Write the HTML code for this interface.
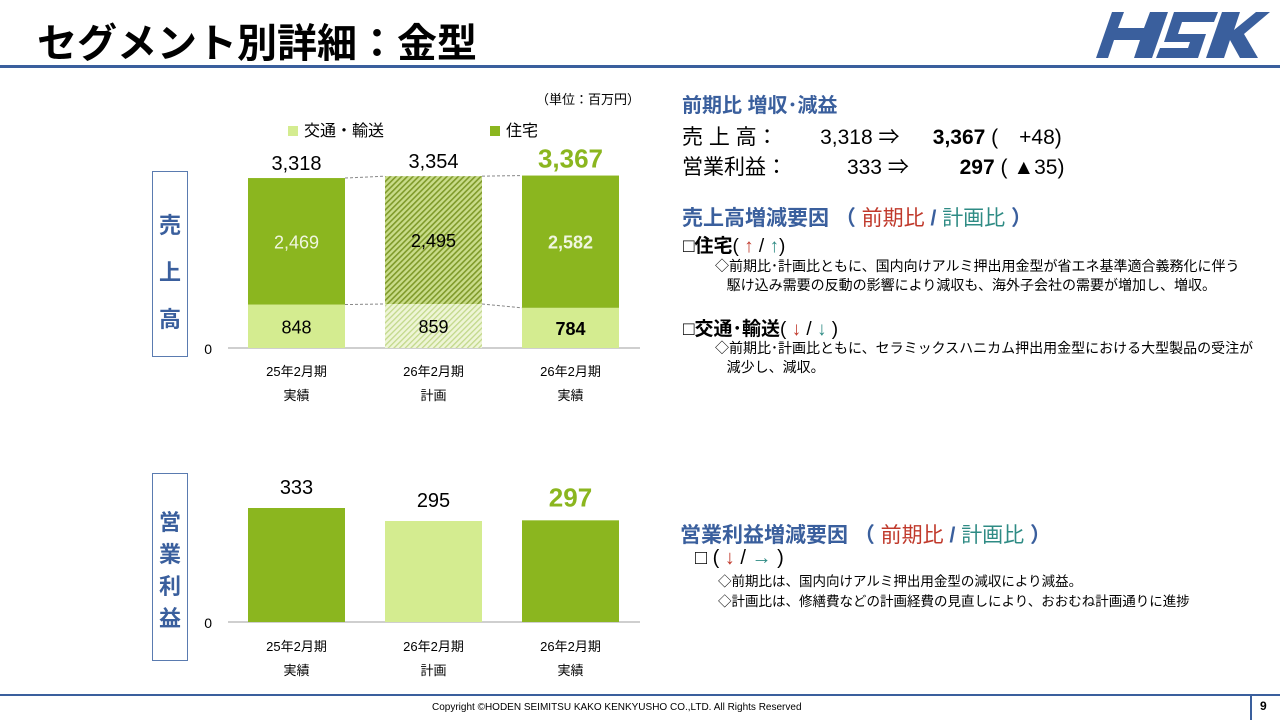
<!DOCTYPE html>
<html><head><meta charset="utf-8">
<style>
body{margin:0;width:1280px;height:720px;overflow:hidden;background:#fff;font-family:"Liberation Sans","Noto Sans CJK JP",sans-serif;position:relative}
.a{position:absolute;white-space:nowrap}
.blue{color:#3a5f9d}.red{color:#c0392b}.teal{color:#2e8b84}
.side{position:absolute;border:1.5px solid #5a7bb0;color:#3a5f9d;font-weight:bold;font-size:22px;text-align:center;width:36px}
</style></head><body>
<div class="a" style="left:37px;top:11px;font-size:40px;font-weight:bold;color:#000;letter-spacing:0px">セグメント別詳細：金型</div>
<svg class="a" style="left:1090px;top:8px" width="180" height="52" viewBox="0 0 180 52">
<polygon points="10,4 28,4 22,20 48,20 54,4 72,4 56,50 38,50 44,32 18,32 12,50 0,50 16,4" fill="#3a5f9d" transform="translate(6,0)"/>
<path d="M84 4 H128 L124 14 H92 L88 26 H116 L108 50 H66 L70 40 H98 L100 34 H74 Z" fill="#3a5f9d"/>
<polygon points="132,4 150,4 144,22 166,4 180,4 154,26 168,50 150,50 140,32 134,50 116,50" fill="#3a5f9d"/>
</svg>
<div class="a" style="left:0;top:65px;width:1280px;height:3px;background:#3a5f9d"></div>

<div class="a" style="left:536px;top:89px;font-size:13px">（単位：百万円）</div>
<div class="a" style="left:288px;top:117px;font-size:16px"><span style="display:inline-block;width:10px;height:10px;background:#d4ec90;margin-right:6px"></span>交通・輸送</div>
<div class="a" style="left:490px;top:117px;font-size:16px"><span style="display:inline-block;width:10px;height:10px;background:#8bb61f;margin-right:6px"></span>住宅</div>

<div class="side" style="left:152px;top:171px;height:186px;line-height:47px;padding-top:30px;box-sizing:border-box">売<br>上<br>高</div>
<div class="side" style="left:152px;top:473px;height:188px;line-height:32px;padding-top:33px;box-sizing:border-box">営<br>業<br>利<br>益</div>

<svg class="a" id="chart" style="left:0;top:0" width="660" height="700">
<defs><pattern id="hatch" width="4" height="4" patternUnits="userSpaceOnUse" patternTransform="rotate(45)"><rect width="4" height="4" fill="#c9dc8a"/><rect width="1.6" height="4" fill="#7f9a2a"/></pattern>
<pattern id="hatch2" width="4" height="4" patternUnits="userSpaceOnUse" patternTransform="rotate(45)"><rect width="4" height="4" fill="#eef5d6"/><rect width="1.3" height="4" fill="#c2d88a"/></pattern></defs>
</svg>

<div class="a" style="left:682px;top:89px;font-size:20px;font-weight:bold;color:#3a5f9d">前期比 増収･減益</div>
<div class="a" style="left:682px;top:121px;font-size:21px">売 上 高：<span style="display:inline-block;width:95px;text-align:right">3,318</span> ⇒ <b style="display:inline-block;width:80px;text-align:right">3,367</b> (　+48)</div>
<div class="a" style="left:682px;top:151px;font-size:21px">営業利益：<span style="display:inline-block;width:95px;text-align:right">333</span> ⇒ <b style="display:inline-block;width:80px;text-align:right">297</b> ( ▲35)</div>

<div class="a" style="left:682px;top:202px;font-size:21px;font-weight:bold"><span class="blue">売上高増減要因 （ </span><span class="red" style="font-weight:normal">前期比</span><span class="blue"> / </span><span class="teal" style="font-weight:normal">計画比</span><span class="blue"> ）</span></div>
<div class="a" style="left:683px;top:231px;font-size:19px"><b>□住宅</b>( <span class="red">↑</span> / <span class="teal">↑</span>)</div>
<div class="a" style="left:715px;top:257px;font-size:14px;line-height:19px">◇前期比･計画比ともに、国内向けアルミ押出用金型が省エネ基準適合義務化に伴う<br>&nbsp;&nbsp;&nbsp;駆け込み需要の反動の影響により減収も、海外子会社の需要が増加し、増収。</div>
<div class="a" style="left:683px;top:314px;font-size:19px"><b>□交通･輸送</b>( <span class="red">↓</span> / <span class="teal">↓</span> )</div>
<div class="a" style="left:715px;top:339px;font-size:14px;line-height:19px">◇前期比･計画比ともに、セラミックスハニカム押出用金型における大型製品の受注が<br>&nbsp;&nbsp;&nbsp;減少し、減収。</div>

<div class="a" style="left:680px;top:519px;font-size:21px;font-weight:bold"><span class="blue">営業利益増減要因 （ </span><span class="red" style="font-weight:normal">前期比</span><span class="blue"> / </span><span class="teal" style="font-weight:normal">計画比</span><span class="blue"> ）</span></div>
<div class="a" style="left:695px;top:547px;font-size:20px">□ ( <span class="red">↓</span> / <span class="teal">→</span> )</div>
<div class="a" style="left:718px;top:572px;font-size:13.5px;line-height:20px">◇前期比は、国内向けアルミ押出用金型の減収により減益。<br>◇計画比は、修繕費などの計画経費の見直しにより、おおむね計画通りに進捗</div>

<div class="a" style="left:0;top:694px;width:1280px;height:2px;background:#3a5f9d"></div>
<div class="a" style="left:432px;top:702px;font-size:10px">Copyright ©HODEN SEIMITSU KAKO KENKYUSHO CO.,LTD. All Rights Reserved</div>
<div class="a" style="left:1250px;top:696px;width:2px;height:24px;background:#3a5f9d"></div>
<div class="a" style="left:1260px;top:699px;font-size:12px;font-weight:bold">9</div>

<script>
const categories=["25年2月期","26年2月期","26年2月期"];
const subLabels=["実績","計画","実績"];
const housing=[2469,2495,2582];
const transport=[848,859,784];
const totals=[3318,3354,3367];
const profit=[333,295,297];

const svg=document.getElementById('chart');
const NS='http://www.w3.org/2000/svg';
function mk(t,a,txt){const e=document.createElementNS(NS,t);for(const k in a)e.setAttribute(k,a[k]);if(txt!==undefined)e.textContent=txt;svg.appendChild(e);return e;}
const barW=97;
function xPos(i){return 248+i*137;}
const salesBase=348, salesScale=170/3318;
function ySales(v){return salesBase-v*salesScale;}
const profBase=622, profScale=114/333;
function yProf(v){return profBase-v*profScale;}

let e=mk('line',{x1:228,x2:640,y1:salesBase,y2:salesBase,stroke:'#bfbfbf','stroke-width':1.5});

e=mk('text',{x:212,y:salesBase+6,'font-size':14,'text-anchor':'end'},'0');

for(let i=0;i<2;i++){
  const a=xPos(i)+barW,b=xPos(i+1);
  [[transport[i],transport[i+1]],[transport[i]+housing[i],transport[i+1]+housing[i+1]]].forEach(p=>{
    e=mk('line',{x1:a,x2:b,y1:ySales(p[0]),y2:ySales(p[1]),stroke:'#888','stroke-width':1,'stroke-dasharray':'3,2'});
    
  });
}
for(let i=0;i<3;i++){
  const x=xPos(i),plan=i===1,last=i===2;
  const yt=ySales(transport[i]),yh=ySales(transport[i]+housing[i]);
  e=mk('rect',{x:x,y:yt,width:barW,height:salesBase-yt,fill:plan?'url(#hatch2)':'#d4ec90'});
  
  e=mk('rect',{x:x,y:yh,width:barW,height:yt-yh,fill:plan?'url(#hatch)':'#8bb61f'});
  
  const cx=x+barW/2;
  e=mk('text',{x:cx,y:(yt+salesBase)/2+7,'font-size':18,'text-anchor':'middle','font-weight':last?'bold':'normal',fill:'#000'},transport[i].toLocaleString('en-US'));
  
  e=mk('text',{x:cx,y:(yh+yt)/2+7,'font-size':18,'text-anchor':'middle','font-weight':last?'bold':'normal',fill:plan?'#000':'#f0f6e0'},housing[i].toLocaleString('en-US'));
  
  e=mk('text',{x:cx,y:yh-8,'font-size':last?26:20,'text-anchor':'middle','font-weight':last?'bold':'normal',fill:last?'#8bb61f':'#000'},totals[i].toLocaleString('en-US'));
  
  e=mk('text',{x:cx,y:376,'font-size':13,'text-anchor':'middle'},categories[i]);
  
  e=mk('text',{x:cx,y:400,'font-size':13,'text-anchor':'middle'},subLabels[i]);
  
}
e=mk('line',{x1:228,x2:640,y1:profBase,y2:profBase,stroke:'#bfbfbf','stroke-width':1.5});

e=mk('text',{x:212,y:profBase+6,'font-size':14,'text-anchor':'end'},'0');

for(let i=0;i<3;i++){
  const x=xPos(i),last=i===2,y=yProf(profit[i]),cx=x+barW/2;
  e=mk('rect',{x:x,y:y,width:barW,height:profBase-y,fill:i===1?'#d4ec90':'#8bb61f'});
  
  e=mk('text',{x:cx,y:y-14,'font-size':last?26:20,'text-anchor':'middle','font-weight':last?'bold':'normal',fill:last?'#8bb61f':'#000'},String(profit[i]));
  
  e=mk('text',{x:cx,y:651,'font-size':13,'text-anchor':'middle'},categories[i]);
  
  e=mk('text',{x:cx,y:675,'font-size':13,'text-anchor':'middle'},subLabels[i]);
  
}
</script>
</body></html>
